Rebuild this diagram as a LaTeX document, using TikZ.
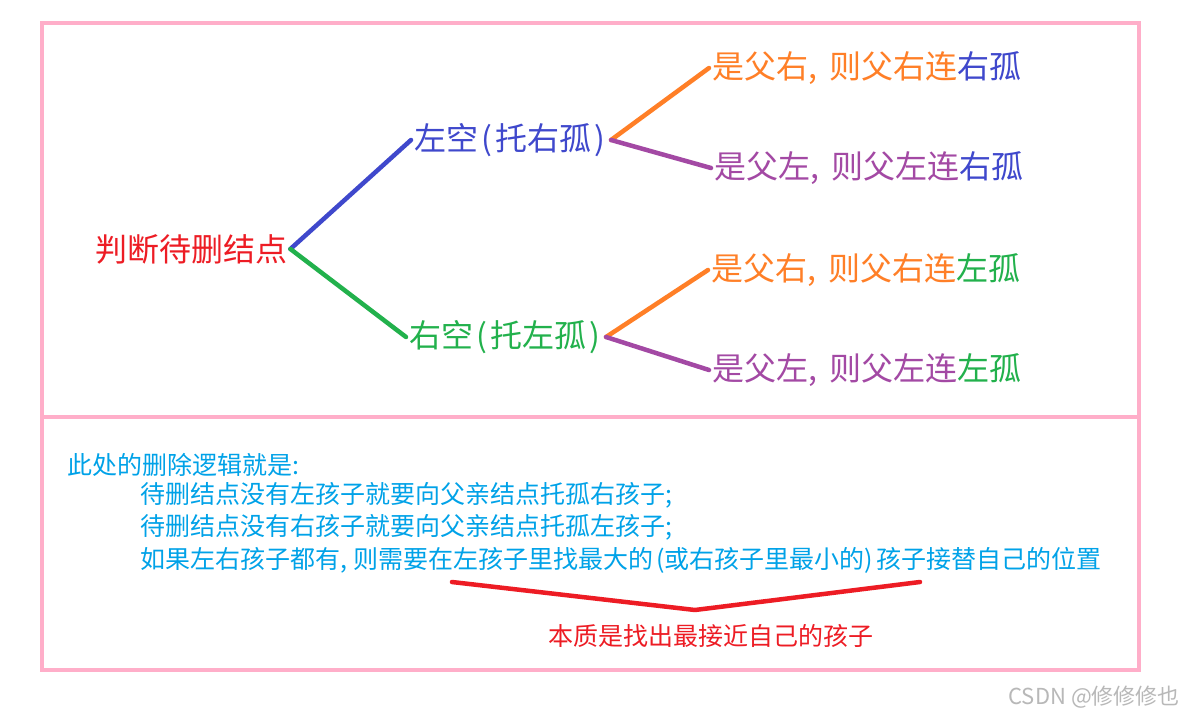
\documentclass[tikz,border=0pt]{standalone}
\usepackage{fontspec}
\setmainfont{Noto Sans CJK SC}
\definecolor{pinkb}{RGB}{255,174,201}
\definecolor{cred}{RGB}{237,28,36}
\definecolor{cblue}{RGB}{63,72,204}
\definecolor{cgreen}{RGB}{34,177,76}
\definecolor{corange}{RGB}{255,127,39}
\definecolor{cpurple}{RGB}{163,73,164}
\definecolor{ccyan}{RGB}{0,162,232}
\newcommand{\bc}{,\kern12pt}
\newcommand{\lp}{\kern3pt(\kern3pt}
\newcommand{\rp}{\kern3pt)}
\begin{document}
\begin{tikzpicture}[x=1pt,y=-1pt,
  big/.style={font=\fontsize{32}{36}\selectfont, inner sep=3pt, anchor=west},
  mid/.style={font=\fontsize{25}{28}\selectfont, inner sep=0pt, anchor=west, text=ccyan},
  branch/.style={line width=4.5pt, line cap=round},
  frame/.style={draw=pinkb, line width=4pt}]
\useasboundingbox (0,0) rectangle (1183,720);
\fill[white] (0,0) rectangle (1183,720);
\draw[frame] (42,23) rectangle (1139,670);
\draw[frame] (42,417) -- (1139,417);

\node[big,text=cred] (root) at (92,249) {判断待删结点};
\node[big,text=cblue] (L) at (411,140) {左空\lp 托右孤\rp};
\node[big,text=cgreen] (R) at (406,337) {右空\lp 托左孤\rp};
\node[big,text=corange] (L1) at (709,68) {是父右\bc 则父右连\textcolor{cblue}{右孤}};
\node[big,text=cpurple] (L2) at (711,168) {是父左\bc 则父左连\textcolor{cblue}{右孤}};
\node[big,text=corange] (R1) at (708,270) {是父右\bc 则父右连\textcolor{cgreen}{左孤}};
\node[big,text=cpurple] (R2) at (709,370) {是父左\bc 则父左连\textcolor{cgreen}{左孤}};

\draw[branch,cblue] (root.east) -- (L.west);
\draw[branch,cgreen] (root.east) -- (R.west);
\draw[branch,corange] ([xshift=3pt]L.east) -- (L1.west);
\draw[branch,cpurple] ([xshift=3pt]L.east) -- (L2.west);
\draw[branch,corange] ([xshift=3pt]R.east) -- (R1.west);
\draw[branch,cpurple] ([xshift=3pt]R.east) -- (R2.west);

\node[mid] (t0) at (67,465) {此处的删除逻辑就是:};
\node[mid] (t1) at (140,495) {待删结点没有左孩子就要向父亲结点托孤右孩子;};
\node[mid] (t2) at (140,527) {待删结点没有右孩子就要向父亲结点托孤左孩子;};
\node[mid] (t3) at (140,560) {如果左右孩子都有,\kern6pt 则需要在左孩子里找最大的\kern3pt(或右孩子里最小的)\kern3pt 孩子接替自己的位置};

\coordinate (v1) at (452,582);
\coordinate (v2) at (695,610);
\coordinate (v3) at (920,582);
\draw[line width=4.5pt, cred, line cap=round, line join=round] (v1) -- (v2) -- (v3);
\node[font=\fontsize{25}{28}\selectfont, text=cred, inner sep=0pt] (ess) at (711,636) {本质是找出最接近自己的孩子};

\node[font=\fontsize{22}{24}\selectfont, text=black!28, inner sep=0pt, anchor=east] (wm) at (1180,697) {CSDN @修修修也};
\end{tikzpicture}
\end{document}
